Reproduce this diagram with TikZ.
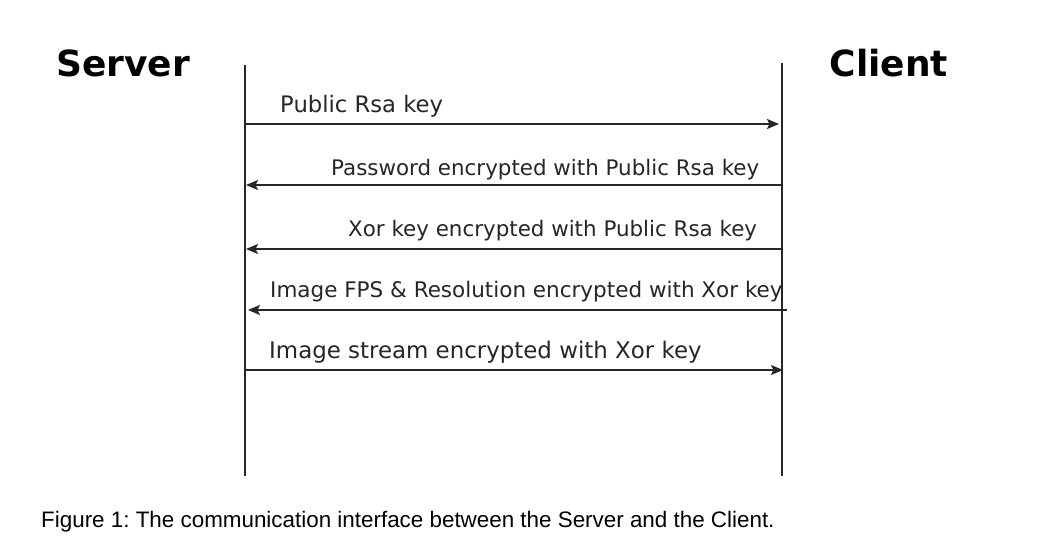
\documentclass[tikz,border=0pt]{standalone}
\usepackage{fontspec}
\setmainfont{DejaVu Sans}
\newfontfamily\capfont{Liberation Sans}
\usetikzlibrary{arrows.meta}
\frenchspacing
\tikzset{
  lifeline/.style={line width=2.3pt, black!85},
  msg/.style={line width=1.7pt, black!85, -{Stealth[length=12pt,width=10pt,inset=2.5pt]}},
  lbl/.style={inner sep=0pt, anchor=base west, text=black!85},
  actor/.style={inner sep=0pt, anchor=base, font=\bfseries\fontsize{36}{40}\selectfont},
}
\begin{document}
\frenchspacing
\begin{tikzpicture}[x=1pt,y=-1pt]
\useasboundingbox (0,0) rectangle (1042,551);
\fill[white] (0,0) rectangle (1042,551);
% actors
\node[actor] (server) at (123,77) {Server};
\node[actor] (client) at (889,77) {Client};
% lifelines
\coordinate (s0) at (245,65);
\coordinate (s1) at (245,476);
\coordinate (c0) at (782,63);
\coordinate (c1) at (782,476);
\draw[lifeline] (s0) -- (s1);
\draw[lifeline] (c0) -- (c1);
% message end points
\coordinate (sa) at (245,124);  \coordinate (ca) at (779,124);
\coordinate (cb) at (782,185);  \coordinate (sb) at (246,185);
\coordinate (cc) at (782,249);  \coordinate (sc) at (246,249);
\coordinate (cd) at (787,310);  \coordinate (sd) at (248,310);
\coordinate (se) at (245,370);  \coordinate (ce) at (783,370);
\draw[msg] (sa) -- (ca);
\draw[msg] (cb) -- (sb);
\draw[msg] (cc) -- (sc);
\draw[msg] (cd) -- (sd);
\draw[msg] (se) -- (ce);
% labels
\node[lbl, font=\fontsize{22.7}{27}\selectfont] (la) at (280,113) {Public Rsa key};
\node[lbl, font=\fontsize{21.4}{25}\selectfont] (lb) at (331,175) {Password encrypted with Public Rsa key};
\node[lbl, font=\fontsize{21.4}{25}\selectfont] (lc) at (348,236) {Xor key encrypted with Public Rsa key};
\node[lbl, font=\fontsize{21.5}{25}\selectfont] (ld) at (270,297) {Image FPS \& Resolution encrypted with Xor key};
\node[lbl, font=\fontsize{22.9}{27}\selectfont] (le) at (269,358) {Image stream encrypted with Xor key};
% caption
\node[inner sep=0pt, anchor=base west, font=\capfont\fontsize{22.4}{26}\selectfont] (cap) at (41,527) {Figure 1: The communication interface between the Server and the Client.};
\end{tikzpicture}
\end{document}
